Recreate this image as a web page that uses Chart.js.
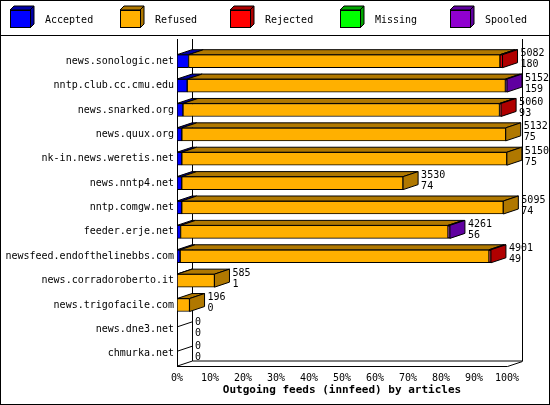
<!DOCTYPE html>
<html>
<head>
<meta charset="utf-8">
<script src="https://cdn.jsdelivr.net/npm/chart.js@4/dist/chart.umd.min.js"></script>
<style>
  body { margin: 0; background: #fff; }
  #wrap { width: 550px; height: 405px; }
</style>
</head>
<body>
<div id="wrap"><canvas id="feeds"></canvas></div>
<script>
const hosts = ["news.sonologic.net", "nntp.club.cc.cmu.edu", "news.snarked.org", "news.quux.org",
  "nk-in.news.weretis.net", "news.nntp4.net", "nntp.comgw.net", "feeder.erje.net",
  "newsfeed.endofthelinebbs.com", "news.corradoroberto.it", "news.trigofacile.com",
  "news.dne3.net", "chmurka.net"];
const offered = [5082, 5152, 5060, 5132, 5150, 3530, 5095, 4261, 4901, 585, 196, 0, 0];
const accepted = [180, 159, 93, 75, 75, 74, 74, 56, 49, 1, 0, 0, 0];
const rejected = [40, 0, 25, 0, 0, 0, 0, 0, 30, 0, 0, 0, 0];
const missing = [0, 0, 0, 0, 0, 0, 0, 0, 0, 0, 0, 0, 0];
const spooled = [0, 25, 0, 0, 0, 0, 0, 30, 0, 0, 0, 0, 0];
const refused = offered.map((o, i) => o - accepted[i] - rejected[i] - missing[i] - spooled[i]);
const pctTicks = [0, 10, 20, 30, 40, 50, 60, 70, 80, 90, 100];
const maxOffered = Math.max(...offered);

const front = ["#0000ff", "#ffb000", "#ff0000", "#00ff00", "#9000d0"];
const shade = ["#0000a8", "#b07800", "#b00000", "#00a800", "#6000a0"];
const DX = 15, DY = 5;
const FONT = "'DejaVu Sans Mono', monospace";

function face(ctx, pts, fill) {
  ctx.beginPath();
  ctx.moveTo(pts[0][0], pts[0][1]);
  for (let k = 1; k < pts.length; k++) ctx.lineTo(pts[k][0], pts[k][1]);
  ctx.closePath();
  ctx.fillStyle = fill;
  ctx.fill();
  ctx.stroke();
}

const depthPlugin = {
  id: "depth",
  beforeDatasetsDraw(chart) {
    const ctx = chart.ctx, a = chart.chartArea;
    const x0 = chart.scales.x.getPixelForValue(0);
    const x1 = chart.scales.x.getPixelForValue(maxOffered);
    ctx.save();
    ctx.strokeStyle = "#000";
    ctx.lineWidth = 1;
    ctx.beginPath();
    ctx.moveTo(x0 + 0.5, a.top - 10);
    ctx.lineTo(x0 + 0.5, a.top);
    ctx.moveTo(x0 + DX + 0.5, a.top - 10);
    ctx.lineTo(x0 + DX + 0.5, a.bottom - DY);
    ctx.lineTo(x1 + DX + 0.5, a.bottom - DY);
    ctx.lineTo(x1 + DX + 0.5, a.top - 10);
    ctx.moveTo(x0 + 0.5, a.bottom);
    ctx.lineTo(x0 + DX + 0.5, a.bottom - DY);
    ctx.moveTo(x0 + 0.5, a.bottom + 0.5);
    ctx.lineTo(x1 + 0.5, a.bottom + 0.5);
    ctx.lineTo(x1 + DX + 0.5, a.bottom - DY + 0.5);
    ctx.stroke();
    ctx.restore();
  },
  afterDatasetsDraw(chart) {
    const ctx = chart.ctx;
    ctx.save();
    ctx.strokeStyle = "#000";
    ctx.lineWidth = 1;
    hosts.forEach((h, i) => {
      let last = -1;
      chart.data.datasets.forEach((ds, d) => {
        const el = chart.getDatasetMeta(d).data[i];
        if (ds.data[i] <= 0) return;
        const l = Math.min(el.base, el.x), r = Math.max(el.base, el.x), t = el.y - el.height / 2;
        face(ctx, [[l, t], [l + DX, t - DY], [r + DX, t - DY], [r, t]], shade[d]);
        last = d;
      });
      const el0 = chart.getDatasetMeta(0).data[i];
      const t = el0.y - el0.height / 2, b = el0.y + el0.height / 2;
      let xe = el0.base;
      if (last >= 0) {
        const el = chart.getDatasetMeta(last).data[i];
        xe = Math.max(el.base, el.x);
        face(ctx, [[xe, t], [xe + DX, t - DY], [xe + DX, b - DY], [xe, b]], shade[last]);
      } else {
        ctx.beginPath();
        ctx.moveTo(xe, t + 4);
        ctx.lineTo(xe + DX, t - 1);
        ctx.stroke();
      }
      ctx.fillStyle = "#000";
      ctx.font = "10px " + FONT;
      ctx.textBaseline = "middle";
      ctx.fillText(String(offered[i]), xe + DX + 3, t - 1);
      ctx.fillText(String(accepted[i]), xe + DX + 3, t + 10);
    });
    ctx.restore();
  },
  afterDraw(chart) {
    const ctx = chart.ctx;
    ctx.save();
    ctx.strokeStyle = "#000";
    ctx.lineWidth = 1;
    ctx.strokeRect(0.5, 0.5, 549, 404);
    ctx.beginPath();
    ctx.moveTo(0, 35.5);
    ctx.lineTo(550, 35.5);
    ctx.stroke();
    const xs = [10, 120, 230, 340, 450];
    chart.data.datasets.forEach((ds, d) => {
      const x = xs[d], y = 10;
      face(ctx, [[x, y], [x + 4, y - 4], [x + 24, y - 4], [x + 20, y]], shade[d]);
      face(ctx, [[x + 20, y], [x + 24, y - 4], [x + 24, y + 14], [x + 20, y + 18]], shade[d]);
      ctx.fillStyle = front[d];
      ctx.fillRect(x + 0.5, y + 0.5, 20, 17);
      ctx.strokeRect(x + 0.5, y + 0.5, 20, 17);
      ctx.fillStyle = "#000";
      ctx.font = "10px " + FONT;
      ctx.textBaseline = "middle";
      ctx.fillText(ds.label, x + 35, y + 10);
    });
    ctx.restore();
  }
};

const seriesNames = ["Accepted", "Refused", "Rejected", "Missing", "Spooled"];
const seriesData = [accepted, refused, rejected, missing, spooled];

new Chart(document.getElementById("feeds"), {
  type: "bar",
  data: {
    labels: hosts,
    datasets: seriesNames.map((n, d) => ({
      label: n,
      data: seriesData[d],
      backgroundColor: front[d],
      borderColor: "#000",
      borderWidth: 1,
      borderSkipped: false,
      barThickness: 13
    }))
  },
  options: {
    indexAxis: "y",
    animation: false,
    responsive: true,
    maintainAspectRatio: false,
    layout: { padding: { top: 49, right: 43, left: 0 } },
    plugins: { legend: { display: false }, tooltip: { enabled: false } },
    scales: {
      x: {
        stacked: true,
        min: 0,
        max: maxOffered,
        afterBuildTicks: (axis) => { axis.ticks = pctTicks.map(p => ({ value: p / 100 * maxOffered })); },
        afterFit: (axis) => { axis.height = 39; },
        ticks: {
          color: "#000",
          font: { family: FONT, size: 10 },
          maxRotation: 0,
          padding: 6,
          callback: (v) => Math.round(v / maxOffered * 100) + "%"
        },
        grid: { display: false, tickLength: 0 },
        border: { display: false },
        title: {
          display: true,
          text: "Outgoing feeds (innfeed) by articles",
          color: "#000",
          font: { family: FONT, size: 11, weight: "bold" },
          padding: { top: 0, bottom: 8 }
        }
      },
      y: {
        stacked: true,
        afterFit: (axis) => { axis.width = 177; },
        ticks: { color: "#000", font: { family: FONT, size: 10 }, padding: 3 },
        grid: { display: false, tickLength: 0 },
        border: { display: true, color: "#000" }
      }
    }
  },
  plugins: [depthPlugin]
});
</script>
</body>
</html>
